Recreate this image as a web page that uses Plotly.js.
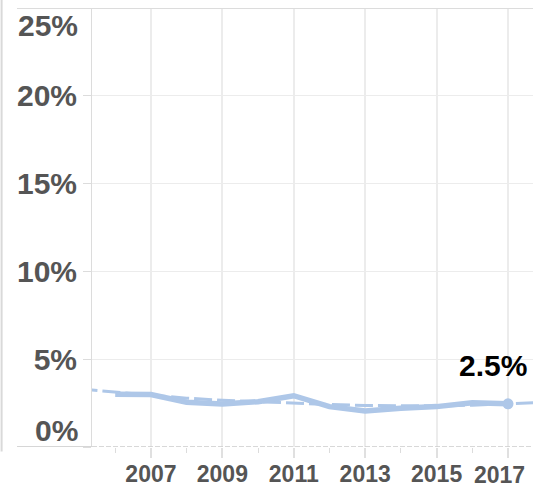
<!DOCTYPE html>
<html>
<head>
<meta charset="utf-8">
<script src="https://cdn.plot.ly/plotly-3.0.1.min.js"></script>
<style>
html,body{margin:0;padding:0;background:#fff;}
#chart{width:533px;height:487px;}
</style>
</head>
<body>
<div id="chart"></div>
<script>
// ---- data ----
const years = [2006, 2007, 2008, 2009, 2010, 2011, 2012, 2013, 2014, 2015, 2016, 2017];
const rate = [3.0, 2.99, 2.55, 2.45, 2.58, 2.92, 2.3, 2.05, 2.2, 2.3, 2.52, 2.46];
const trendYears = [2005, 2006, 2007, 2008, 2009, 2010, 2011, 2012, 2013, 2014, 2015, 2016, 2017, 2018];
const trend = [3.3, 3.12, 2.97, 2.78, 2.66, 2.57, 2.49, 2.42, 2.36, 2.33, 2.34, 2.38, 2.45, 2.55];
const yTickVals = [0, 5, 10, 15, 20, 25];
const yTickText = ['0%', '5%', '10%', '15%', '20%', '25%'];
const xTickVals = [2007, 2009, 2011, 2013, 2015, 2017];
const xMinorVals = [2006, 2008, 2010, 2012, 2014, 2016];

const BLUE = '#aec7e8';
const GRAY = '#555555';
const FONT = 'Arial, "Liberation Sans", sans-serif';

const lastX = years[years.length - 1];
const lastY = rate[rate.length - 1];
const lastTick = xTickVals[xTickVals.length - 1];

const traces = [
  {
    x: trendYears, y: trend, type: 'scatter', mode: 'lines',
    line: {color: BLUE, width: 3, dash: '18px,5px'},
    hoverinfo: 'skip', showlegend: false
  },
  {
    x: years, y: rate, type: 'scatter', mode: 'lines',
    line: {color: BLUE, width: 5.5},
    showlegend: false
  },
  {
    x: [lastX], y: [lastY], type: 'scatter', mode: 'markers',
    marker: {color: BLUE, size: 11},
    showlegend: false
  }
];

// interior labels on the axes; edge labels as annotations nudged inward
const yAxisText = yTickText.map((t, i) => (i === 0 || i === yTickText.length - 1) ? '' : t);
const xAxisText = xTickVals.map((v, i) => i === xTickVals.length - 1 ? '' : String(v));

const layout = {
  width: 533, height: 487,
  margin: {l: 92, r: 0, t: 8, b: 40},
  paper_bgcolor: '#ffffff', plot_bgcolor: '#ffffff',
  font: {family: FONT, color: GRAY},
  xaxis: {
    range: [2005.35, 2017.7],
    tickvals: xTickVals, ticktext: xAxisText,
    ticks: 'outside', ticklen: 10, tickcolor: '#e0e0e0', tickwidth: 2,
    ticklabelstandoff: -4,
    showgrid: true, gridcolor: '#ececec', gridwidth: 2,
    zeroline: false, showline: false,
    tickfont: {family: FONT, size: 23, color: GRAY, weight: 'bold'},
    minor: {tickvals: xMinorVals, ticks: 'outside', ticklen: 5, tickcolor: '#dcdcdc', tickwidth: 1, showgrid: false},
    fixedrange: true
  },
  yaxis: {
    range: [0, 25],
    tickvals: yTickVals, ticktext: yAxisText,
    ticks: 'outside', ticklen: 8, tickcolor: '#dcdcdc', tickwidth: 1,
    showgrid: true, gridcolor: '#ececec', gridwidth: 1,
    zeroline: false, showline: true, linecolor: '#dcdcdc', linewidth: 1,
    tickfont: {family: FONT, size: 30, color: GRAY, weight: 'bold'},
    fixedrange: true
  },
  shapes: [
    {type: 'line', xref: 'paper', yref: 'y', x0: -0.17, x1: 0, y0: yTickVals[0], y1: yTickVals[0], line: {color: '#d6d6d6', width: 2}},
    {type: 'line', xref: 'paper', yref: 'y', x0: 0, x1: 1, y0: yTickVals[0], y1: yTickVals[0], line: {color: '#cccccc', width: 1.5, dash: '5px,2px'}},
    {type: 'line', xref: 'paper', yref: 'y', x0: -0.17, x1: 1, y0: yTickVals[5], y1: yTickVals[5], line: {color: '#dcdcdc', width: 2}},
    {type: 'line', xref: 'paper', yref: 'paper', x0: -0.205, x1: -0.205, y0: -0.01, y1: 1.02, line: {color: '#d9d9d9', width: 2}}
  ],
  annotations: [
    {xref: 'paper', yref: 'y', x: 0, y: yTickVals[0], xanchor: 'right', yanchor: 'middle', xshift: -12, yshift: 17,
     text: yTickText[0], showarrow: false, font: {family: FONT, size: 30, color: GRAY, weight: 'bold'}},
    {xref: 'paper', yref: 'y', x: 0, y: yTickVals[5], xanchor: 'right', yanchor: 'middle', xshift: -12, yshift: -17,
     text: yTickText[5], showarrow: false, font: {family: FONT, size: 30, color: GRAY, weight: 'bold'}},
    {xref: 'x', yref: 'paper', x: lastTick, y: 0, xanchor: 'center', yanchor: 'top', xshift: -9, yshift: -13,
     text: String(lastTick), showarrow: false, font: {family: FONT, size: 23, color: GRAY, weight: 'bold'}},
    {xref: 'x', yref: 'y', x: lastX, y: lastY, xanchor: 'center', yanchor: 'middle', xshift: -15, yshift: 38,
     text: lastY.toFixed(1) + '%', showarrow: false, font: {family: FONT, size: 30, color: '#000000', weight: 'bold'}}
  ]
};

Plotly.newPlot('chart', traces, layout, {displayModeBar: false, staticPlot: true});
</script>
</body>
</html>
